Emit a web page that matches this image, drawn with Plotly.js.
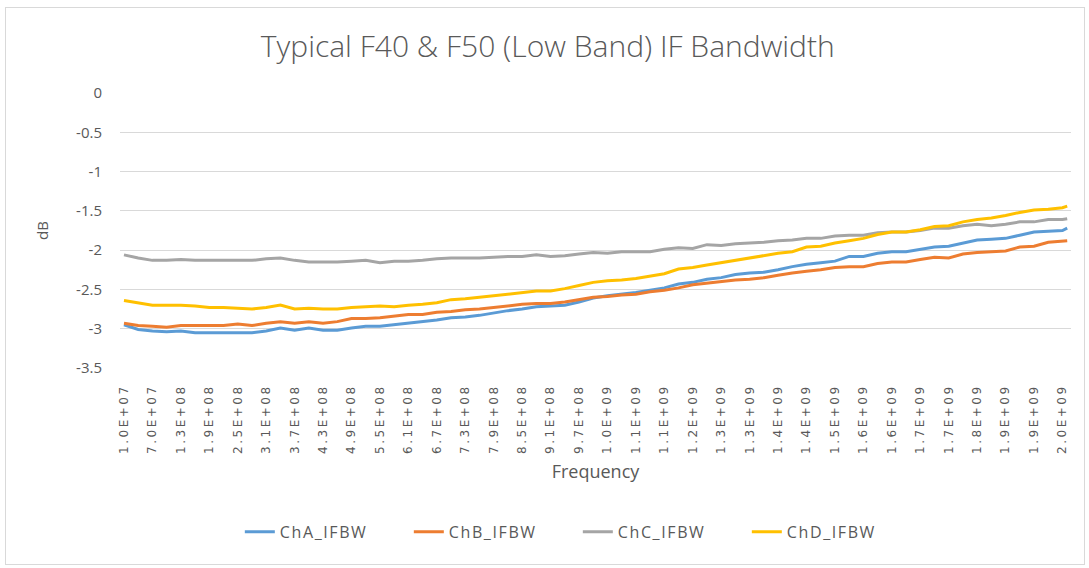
<!DOCTYPE html>
<html>
<head>
<meta charset="utf-8">
<script src="https://cdn.plot.ly/plotly-3.0.1.min.js"></script>
<style>
html,body{margin:0;padding:0;background:#fff;}
#chart{width:1089px;height:568px;}
#frame{position:absolute;left:5px;top:7px;width:1080px;height:558px;border:1px solid #d9d9d9;box-sizing:border-box;pointer-events:none;}
.xtick text{letter-spacing:2.5px;}
.legendtext{letter-spacing:1.6px;}
</style>
</head>
<body>
<div id="chart"></div>
<div id="frame"></div>
<script>
// Frequency samples (MHz)
const freqMHz = [10,40,70,100,130,160,190,220,250,280,310,340,370,400,430,460,490,520,550,580,
  610,640,670,700,730,760,790,820,850,880,910,940,970,1000,1030,1060,1090,1120,1150,1180,
  1210,1240,1270,1300,1330,1360,1390,1420,1450,1480,1510,1540,1570,1600,1630,1660,1690,1720,1750,1780,
  1810,1840,1870,1900,1930,1960,1990,2000];

const chA = [-2.95,-3.01,-3.03,-3.04,-3.03,-3.05,-3.05,-3.05,-3.05,-3.05,
  -3.03,-2.99,-3.02,-2.99,-3.02,-3.02,-2.99,-2.97,-2.97,-2.95,
  -2.93,-2.91,-2.89,-2.86,-2.85,-2.83,-2.80,-2.77,-2.75,-2.72,
  -2.71,-2.70,-2.66,-2.61,-2.58,-2.56,-2.54,-2.51,-2.48,-2.43,
  -2.41,-2.37,-2.35,-2.31,-2.29,-2.28,-2.25,-2.21,-2.18,-2.16,
  -2.14,-2.08,-2.08,-2.04,-2.02,-2.02,-1.99,-1.96,-1.95,-1.91,
  -1.87,-1.86,-1.85,-1.81,-1.77,-1.76,-1.75,-1.72];

const chB = [-2.93,-2.96,-2.97,-2.98,-2.96,-2.96,-2.96,-2.96,-2.94,-2.96,
  -2.93,-2.91,-2.93,-2.91,-2.93,-2.91,-2.87,-2.87,-2.86,-2.84,
  -2.82,-2.82,-2.79,-2.78,-2.76,-2.75,-2.73,-2.71,-2.69,-2.68,
  -2.68,-2.66,-2.63,-2.60,-2.59,-2.57,-2.56,-2.53,-2.51,-2.48,
  -2.44,-2.42,-2.40,-2.38,-2.37,-2.35,-2.32,-2.29,-2.27,-2.25,
  -2.22,-2.21,-2.21,-2.17,-2.15,-2.15,-2.12,-2.09,-2.10,-2.05,
  -2.03,-2.02,-2.01,-1.96,-1.95,-1.90,-1.89,-1.88];

const chC = [-2.06,-2.10,-2.13,-2.13,-2.12,-2.13,-2.13,-2.13,-2.13,-2.13,
  -2.11,-2.10,-2.13,-2.15,-2.15,-2.15,-2.14,-2.13,-2.16,-2.14,
  -2.14,-2.13,-2.11,-2.10,-2.10,-2.10,-2.09,-2.08,-2.08,-2.06,
  -2.08,-2.07,-2.05,-2.03,-2.04,-2.02,-2.02,-2.02,-1.99,-1.97,
  -1.98,-1.93,-1.94,-1.92,-1.91,-1.90,-1.88,-1.87,-1.85,-1.85,
  -1.82,-1.81,-1.81,-1.78,-1.77,-1.77,-1.75,-1.72,-1.72,-1.69,
  -1.67,-1.69,-1.67,-1.64,-1.64,-1.61,-1.61,-1.60];

const chD = [-2.64,-2.67,-2.70,-2.70,-2.70,-2.71,-2.73,-2.73,-2.74,-2.75,
  -2.73,-2.70,-2.75,-2.74,-2.75,-2.75,-2.73,-2.72,-2.71,-2.72,
  -2.70,-2.69,-2.67,-2.63,-2.62,-2.60,-2.58,-2.56,-2.54,-2.52,
  -2.52,-2.49,-2.45,-2.41,-2.39,-2.38,-2.36,-2.33,-2.30,-2.24,
  -2.22,-2.19,-2.16,-2.13,-2.10,-2.07,-2.04,-2.02,-1.96,-1.95,
  -1.91,-1.88,-1.85,-1.80,-1.77,-1.77,-1.74,-1.70,-1.69,-1.64,
  -1.61,-1.59,-1.56,-1.52,-1.49,-1.48,-1.46,-1.44];

const seriesNames = ['ChA_IFBW','ChB_IFBW','ChC_IFBW','ChD_IFBW'];
const seriesColors = ['#5B9BD5','#ED7D31','#A5A5A5','#FFC000'];

const tickFreqMHz = [10,70,130,190,250,310,370,430,490,550,610,670,730,790,850,910,970,
  1030,1090,1150,1210,1270,1330,1390,1450,1510,1570,1630,1690,1750,1810,1870,1930,1990];
const tickLabels = ['1.0E+07','7.0E+07','1.3E+08','1.9E+08','2.5E+08','3.1E+08','3.7E+08','4.3E+08',
  '4.9E+08','5.5E+08','6.1E+08','6.7E+08','7.3E+08','7.9E+08','8.5E+08','9.1E+08','9.7E+08',
  '1.0E+09','1.1E+09','1.1E+09','1.2E+09','1.3E+09','1.3E+09','1.4E+09','1.4E+09','1.5E+09',
  '1.6E+09','1.6E+09','1.7E+09','1.7E+09','1.8E+09','1.9E+09','1.9E+09','2.0E+09'];

const yTickVals = [0,-0.5,-1,-1.5,-2,-2.5,-3,-3.5];
const yTickLabels = ['0','-0.5','-1','-1.5','-2','-2.5','-3','-3.5'];

const xHz = freqMHz.map(f => f * 1e6);
const allY = [chA, chB, chC, chD];

const traces = allY.map((ys, i) => ({
  type: 'scatter',
  mode: 'lines',
  name: seriesNames[i],
  x: xHz,
  y: ys,
  line: {color: seriesColors[i], width: 3}
}));

const layout = {
  width: 1089,
  height: 568,
  margin: {l: 120, r: 18, t: 93, b: 200},
  paper_bgcolor: '#ffffff',
  plot_bgcolor: '#ffffff',
  font: {family: 'Open Sans, sans-serif', color: '#595959'},
  title: {
    text: 'Typical F40 &amp; F50 (Low Band) IF Bandwidth',
    font: {family: 'Open Sans, sans-serif', size: 30, weight: 300, color: '#595959'},
    x: 0.503, xref: 'container', xanchor: 'center',
    y: 0.919, yref: 'container', yanchor: 'middle'
  },
  xaxis: {
    type: 'linear',
    range: [1.6e6, 2008e6],
    tickvals: tickFreqMHz.map(f => f * 1e6),
    ticktext: tickLabels,
    tickangle: -90,
    tickfont: {family: 'DejaVu Sans, sans-serif', size: 12, color: '#595959'},
    ticks: '',
    ticklabelstandoff: 13,
    showgrid: false,
    zeroline: false,
    showline: false,
    title: {text: 'Frequency', font: {size: 18, color: '#595959'}, standoff: 12}
  },
  yaxis: {
    range: [-3.5, 0],
    tickvals: yTickVals,
    ticktext: yTickLabels,
    tickfont: {size: 15, color: '#595959'},
    ticks: '',
    ticklabelstandoff: 17,
    showgrid: true,
    gridcolor: '#d9d9d9',
    gridwidth: 1,
    zeroline: false,
    showline: false,
    title: {text: 'dB', font: {size: 15, color: '#595959'}, standoff: 23}
  },
  showlegend: true,
  legend: {
    orientation: 'h',
    x: 0.126, xanchor: 'left',
    y: -0.596, yanchor: 'middle',
    font: {size: 16, color: '#595959'},
    entrywidth: 124, entrywidthmode: 'pixels',
    traceorder: 'normal',
    bgcolor: 'rgba(0,0,0,0)'
  }
};

Plotly.newPlot('chart', traces, layout, {displayModeBar: false, staticPlot: true});
</script>
</body>
</html>
